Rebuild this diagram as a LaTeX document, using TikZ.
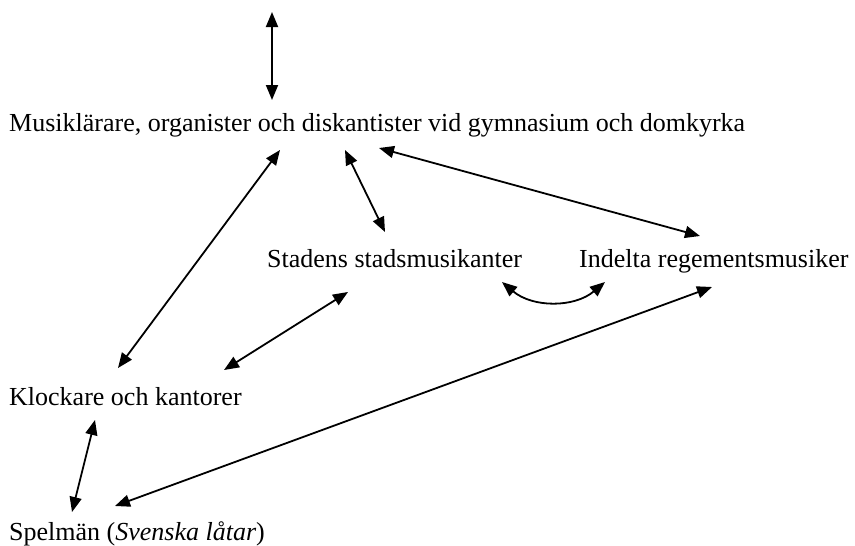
\documentclass[tikz,border=0pt]{standalone}
\usepackage{fontspec}
\setmainfont{Liberation Serif}
\usepackage{tikz}
\usetikzlibrary{calc,arrows.meta}

\tikzset{
  lbl/.style={anchor=base west, inner sep=0pt, font=\fontsize{26}{30}\selectfont},
  dbl/.style={{Triangle[length=15pt,width=12pt]}-{Triangle[length=15pt,width=12pt]}, line width=1.8pt}
}

\begin{document}
\begin{tikzpicture}[x=1pt, y=-1pt]
      \useasboundingbox (0, 0) rectangle (855, 546);

      \node[lbl] (mus) at (9, 131) {Musiklärare, organister och diskantister vid gymnasium och domkyrka};
      \node[lbl] (sta) at (267, 267) {Stadens stadsmusikanter};
      \node[lbl] (ind) at (579, 267) {Indelta regementsmusiker};
      \node[lbl] (kl) at (9, 405) {Klockare och kantorer};
      \node[lbl] (sp) at (9, 540) {Spelmän (\textit{Svenska låtar})};

      \coordinate (top) at (272, 12);

      \draw[dbl] (top) -- ($(mus.base west)+(263, -31)$);
      \draw[dbl] ($(mus.base west)+(271, 19)$) -- ($(kl.base west)+(109, -37)$);
      \draw[dbl] ($(mus.base west)+(336, 19)$) -- ($(sta.base west)+(118, -35)$);
      \draw[dbl] ($(mus.base west)+(370, 17)$) -- ($(ind.base west)+(121, -31)$);

      \draw[dbl] ($(sta.base west)+(81, 25)$) -- ($(kl.base west)+(215, -35)$);
      \draw[dbl] ($(sta.base west)+(235, 15)$) to[bend right=40] ($(ind.base west)+(26, 15)$);

      \draw[dbl] ($(ind.base west)+(133, 20)$) -- ($(sp.base west)+(106, -34)$);
      \draw[dbl] ($(kl.base west)+(86, 15)$) -- ($(sp.base west)+(63, -28)$);
    \end{tikzpicture}
\end{document}
